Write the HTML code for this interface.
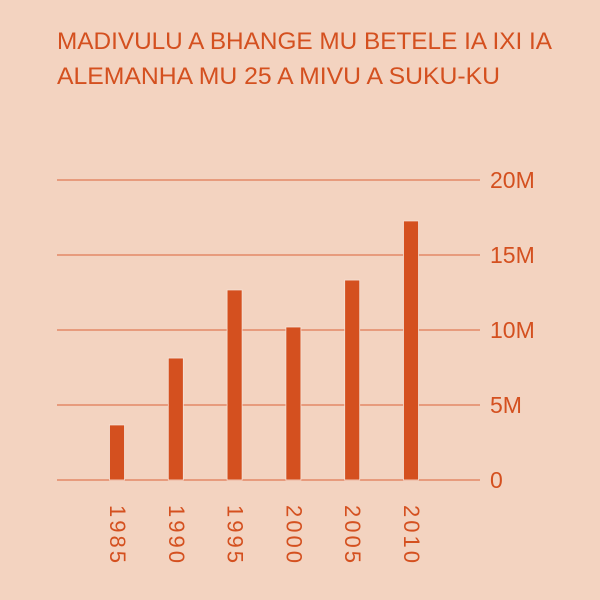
<!DOCTYPE html>
<html><head><meta charset="utf-8"><style>
html,body{margin:0;padding:0;background:#f3d3c0}
svg{display:block}
text{font-family:"Liberation Sans",sans-serif;fill:#d4501f}
</style></head><body>
<svg width="600" height="600">
<rect width="600" height="600" fill="#f3d3c0"/>
<text x="57" y="49" font-size="24" textLength="495" lengthAdjust="spacingAndGlyphs">MADIVULU A BHANGE MU BETELE IA IXI IA</text>
<text x="57" y="84" font-size="24" textLength="443" lengthAdjust="spacingAndGlyphs">ALEMANHA MU 25 A MIVU A SUKU-KU</text>
<g id="grid"></g><g id="bars"></g><g id="xl"></g>
</svg>
<script>
const categories=["1985","1990","1995","2000","2005","2010"];
const values=[3.67,8.13,12.67,10.2,13.33,17.27];
const ticks=[0,5,10,15,20];
const tickLabels=["0","5M","10M","15M","20M"];
const NS="http://www.w3.org/2000/svg";
const y=v=>480-v*15;
const x=i=>117+i*58.8;
function mk(t,a,p){const e=document.createElementNS(NS,t);for(const k in a)e.setAttribute(k,a[k]);p.appendChild(e);return e;}
const g=document.getElementById('grid'),b=document.getElementById('bars'),xl=document.getElementById('xl');
ticks.forEach((t,i)=>{
 const l=mk('line',{x1:57,x2:480,y1:y(t),y2:y(t),stroke:'#e07a55','stroke-width':1.2},g);
 
 
 const tx=mk('text',{x:490,y:y(t)+8,'font-size':23},g);
 tx.textContent=tickLabels[i];
 
 
});
values.forEach((v,i)=>{
 const r=mk('rect',{x:x(i)-7.5,y:y(v),width:15,height:480-y(v),fill:'#d4501f',stroke:'#f6e2d6','stroke-width':0.8},b);
 
 
 const t=mk('text',{x:0,y:0,'font-size':22,'letter-spacing':3,transform:`translate(${x(i)-7},505) rotate(90)`},xl);
 t.textContent=categories[i];
 
 
});
</script>
</body></html>
